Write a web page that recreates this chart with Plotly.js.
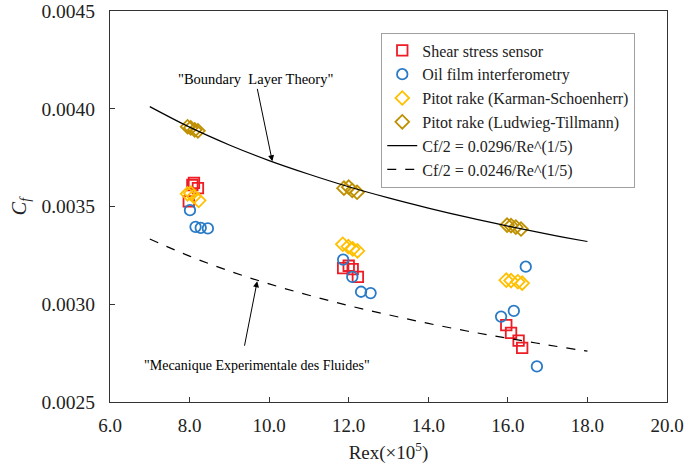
<!DOCTYPE html>
<html>
<head>
<meta charset="utf-8">
<script src="https://cdn.plot.ly/plotly-3.0.1.min.js"></script>
<style>
  html, body { margin: 0; padding: 0; background: #fff; }
  #chart { width: 685px; height: 465px; }
</style>
</head>
<body>
<div id="chart"></div>
<script>
// Shear stress sensor (Rex x1e5, Cf)
const shearX = [7.98, 8.07, 8.11, 8.21, 11.86, 12.00, 12.10, 12.23, 15.96, 16.08, 16.27, 16.36];
const shearY = [0.003526, 0.003610, 0.003621, 0.003594, 0.003185, 0.003197, 0.003180, 0.003140, 0.002893, 0.002854, 0.002814, 0.002777];

// Oil film interferometry
const oilX = [8.01, 8.15, 8.28, 8.46, 11.86, 12.09, 12.31, 12.55, 15.83, 16.15, 16.45, 16.73];
const oilY = [0.003481, 0.003396, 0.003391, 0.003388, 0.003228, 0.003140, 0.003064, 0.003057, 0.002937, 0.002966, 0.003192, 0.002682];

// Pitot rake (Karman-Schoenherr)
const ksX = [7.95, 8.03, 8.11, 8.23, 11.85, 11.99, 12.10, 12.22, 15.96, 16.08, 16.25, 16.36];
const ksY = [0.003565, 0.003568, 0.003552, 0.003531, 0.003307, 0.003295, 0.003283, 0.003273, 0.003123, 0.003121, 0.003115, 0.003108];

// Pitot rake (Ludwieg-Tillmann)
const ltX = [7.95, 8.03, 8.13, 8.21, 11.88, 12.00, 12.09, 12.21, 15.98, 16.08, 16.20, 16.33];
const ltY = [0.003908, 0.003902, 0.003892, 0.003887, 0.003594, 0.003599, 0.003582, 0.003573, 0.003405, 0.003402, 0.003395, 0.003385];

// Reference curves
const curveX = [7, 8, 9, 10, 11, 12, 13, 14, 15, 16, 17, 18];
const theoryY = [0.004011, 0.003906, 0.003815, 0.003735, 0.003665, 0.003601, 0.003544, 0.003492, 0.003444, 0.003400, 0.003359, 0.003321];
const mefY = [0.003334, 0.003246, 0.003170, 0.003104, 0.003046, 0.002993, 0.002946, 0.002902, 0.002862, 0.002826, 0.002792, 0.002760];

const SERIF = '"Liberation Serif", "Times New Roman", serif';

function markerTrace(x, y, name, symbol, color) {
    return {
        x: x, y: y, name: name,
        type: 'scatter', mode: 'markers',
        marker: { symbol: symbol, size: 10.5, color: color, line: { color: color, width: 1.8 } }
    };
}

const traces = [
    markerTrace(shearX, shearY, 'Shear stress sensor', 'square-open', '#ee1c25'),
    markerTrace(oilX, oilY, 'Oil film interferometry', 'circle-open', '#2a7bc6'),
    markerTrace(ksX, ksY, 'Pitot rake (Karman-Schoenherr)', 'diamond-open', '#ffc000'),
    markerTrace(ltX, ltY, 'Pitot rake (Ludwieg-Tillmann)', 'diamond-open', '#bf9000'),
    {
        x: curveX, y: theoryY, name: 'Cf/2 = 0.0296/Re^(1/5)',
        type: 'scatter', mode: 'lines', line: { color: '#000', width: 1.2, shape: 'spline' }
    },
    {
        x: curveX, y: mefY, name: 'Cf/2 = 0.0246/Re^(1/5)',
        type: 'scatter', mode: 'lines', line: { color: '#000', width: 1.2, dash: 'dash', shape: 'spline' }
    }
];

const layout = {
    width: 685,
    height: 465,
    margin: { l: 110, r: 18, t: 11, b: 63 },
    paper_bgcolor: '#fff',
    plot_bgcolor: '#fff',
    font: { family: SERIF, size: 18, color: '#222' },
    showlegend: true,
    legend: {
        x: 0.487, y: 0.945, xanchor: 'left', yanchor: 'top',
        bgcolor: '#fff', bordercolor: '#a0a0a0', borderwidth: 1,
        font: { family: SERIF, size: 16, color: '#222' },
        tracegroupgap: 0
    },
    xaxis: {
        range: [6, 20], dtick: 2, tick0: 6, tickformat: '.1f',
        ticks: 'inside', ticklen: 5, tickcolor: '#333', ticklabelstandoff: 6,
        ticklabeloverflow: 'allow',
        tickfont: { family: SERIF, size: 19 },
        showline: true, linecolor: '#333', linewidth: 1, mirror: true,
        showgrid: false, zeroline: false,
        title: { text: 'Rex(×10<sup>5</sup>)', font: { family: SERIF, size: 19 }, standoff: 10 }
    },
    yaxis: {
        range: [0.0025, 0.0045001], dtick: 0.0005, tick0: 0.0025, tickformat: '.4f',
        ticks: 'inside', ticklen: 5, tickcolor: '#333', ticklabelstandoff: 10,
        ticklabeloverflow: 'allow',
        tickfont: { family: SERIF, size: 19.5 },
        showline: true, linecolor: '#333', linewidth: 1, mirror: true,
        showgrid: false, zeroline: false,
        title: { text: '<i>C<sub>f</sub></i>', font: { family: SERIF, size: 20 }, standoff: 9 }
    },
    annotations: [
        {
            x: 10.08, y: 0.003731, xref: 'x', yref: 'y',
            text: '"Boundary  Layer Theory"', showarrow: true,
            ax: -17, ay: -82, arrowhead: 2, arrowsize: 1.2, arrowwidth: 1, arrowcolor: '#000',
            font: { family: SERIF, size: 14.5, color: '#000' }
        },
        {
            x: 9.705, y: 0.002687, xref: 'x', yref: 'y',
            text: '"Mecanique Experimentale des Fluides"', showarrow: false,
            font: { family: SERIF, size: 14, color: '#000' }
        },
        {
            x: 9.70, y: 0.003118, xref: 'x', yref: 'y', text: '', showarrow: true,
            ax: -13, ay: 66, arrowhead: 2, arrowsize: 1.2, arrowwidth: 1, arrowcolor: '#000'
        }
    ]
};

Plotly.newPlot('chart', traces, layout, { displayModeBar: false, staticPlot: true });
</script>
</body>
</html>
